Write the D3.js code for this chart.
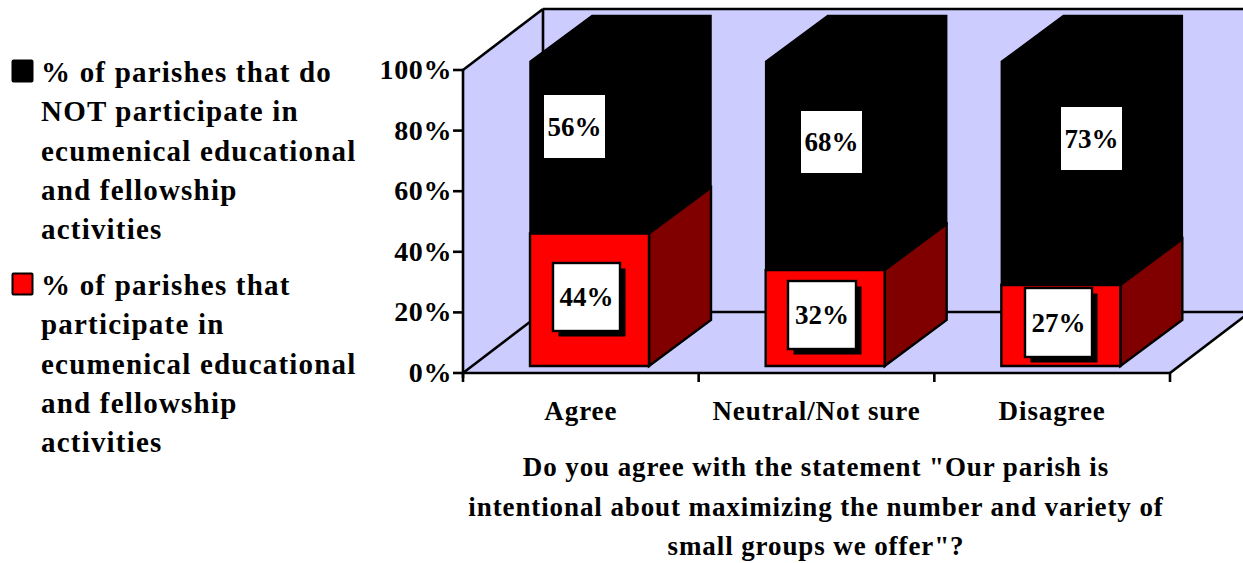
<!DOCTYPE html>
<html><head><meta charset="utf-8">
<script src="https://cdn.jsdelivr.net/npm/d3@7/dist/d3.min.js"></script>
<style>html,body{margin:0;background:#fff}svg{display:block}text{font-family:"Liberation Serif",serif;fill:#000}</style>
</head><body><svg id="c" width="1243" height="563"></svg>
<script>
const categories=["Agree","Neutral/Not sure","Disagree"];
const participate=[43.5,31.5,26.6];
const notParticipate=[56.5,68.5,73.4];
const participateLabels=["44%","32%","27%"];
const notParticipateLabels=["56%","68%","73%"];
const ticks=[0,20,40,60,80,100];
const legendNot=["% of parishes that do","NOT participate in","ecumenical educational","and fellowship","activities"];
const legendYes=["% of parishes that","participate in","ecumenical educational","and fellowship","activities"];
const titleLines=['Do you agree with the statement "Our parish is','intentional about maximizing the number and variety of','small groups we offer"?'];

const svg=d3.select("#c");
const F=27;
const x=d3.scaleBand().domain(categories).range([463,1170]);
const y=d3.scaleLinear().domain([0,100]).range([373,70]);
const barY=d3.scaleLinear().domain([0,100]).range([366,61.5]);
const dx=80,dy=-61, bdx=62,bdy=-46, barW=119, barOff=67;
const line=d3.line();
const P=(pts,fill,sw=2.2,stroke="#000")=>svg.append("path").attr("d",line(pts)+"Z").attr("fill",fill).attr("stroke",stroke).attr("stroke-width",sw).attr("stroke-linejoin","miter");
const L=(a,b,sw=2.6)=>svg.append("line").attr("x1",a[0]).attr("y1",a[1]).attr("x2",b[0]).attr("y2",b[1]).attr("stroke","#000").attr("stroke-width",sw);
const x0=x.range()[0],x1=x.range()[1],yb=y(0),yt=y(100);
const wall="#ccccff";
P([[x0,yb],[x0,yt],[x0+dx,yt+dy],[x1+dx,yt+dy],[x1+dx,yb+dy],[x1,yb]],wall,0);
L([x0,yt],[x0+dx,yt+dy]);L([x0+dx,yt+dy],[x0+dx,yb+dy]);L([x0+dx,yt+dy],[x1+dx,yt+dy]);
L([x0,yb],[x0+dx,yb+dy]);L([x0+dx,yb+dy],[x1+dx,yb+dy]);L([x1,yb],[x1+dx,yb+dy]);
L([x0,yt-1],[x0,yb+5]);L([x0-1,yb],[x1,yb]);
ticks.forEach(t=>{L([x0-10,y(t)],[x0,y(t)]);
 svg.append("text").attr("x",x0-11).attr("y",y(t)+9).attr("text-anchor","end").attr("font-size",28).attr("letter-spacing",0.6).attr("font-weight","bold").text(t+"%");});
categories.forEach((c,i)=>{L([x(c)+x.bandwidth(),yb],[x(c)+x.bandwidth(),yb+9]);
 svg.append("text").attr("x",x(c)+x.bandwidth()/2).attr("y",420).attr("text-anchor","middle").attr("font-size",27).attr("letter-spacing",0.9).attr("font-weight","bold").text(c);});
L([x0,yb],[x0,yb+9]);
const boxes=[[544,95,61,63],[801,111,61,62],[1061,107,61,63]];
const boxesR=[[553,263,67,68],[788,281,68,68],[1025,288,67,69]];
categories.forEach((c,i)=>{
 const l=x(c)+barOff,r=l+barW,b=barY(0),m=barY(participate[i]),t=barY(participate[i]+notParticipate[i]);
 P([[l,m],[l,t],[l+bdx,t+bdy],[r+bdx,t+bdy],[r+bdx,m+bdy],[r,m]],"#000",1.5);
 P([[r,b],[r+bdx,b+bdy],[r+bdx,m+bdy],[r,m]],"#800000",2.4);
 P([[l,b],[l,m],[r,m],[r,b]],"#ff0000",2.4);
});
const txt=(b,s)=>svg.append("text").attr("x",b[0]+b[2]/2).attr("y",b[1]+b[3]/2+9).attr("text-anchor","middle").attr("font-size",F).attr("font-weight","bold").text(s);
boxes.forEach((b,i)=>{svg.append("rect").attr("x",b[0]).attr("y",b[1]).attr("width",b[2]).attr("height",b[3]).attr("fill","#fff");txt(b,notParticipateLabels[i]);});
boxesR.forEach((b,i)=>{
 svg.append("rect").attr("x",b[0]+5.5).attr("y",b[1]+5.5).attr("width",b[2]).attr("height",b[3]).attr("fill","#000");
 svg.append("rect").attr("x",b[0]).attr("y",b[1]).attr("width",b[2]).attr("height",b[3]).attr("fill","#fff").attr("stroke","#000").attr("stroke-width",2.4);
 txt(b,participateLabels[i]);});
const lg=(lines,y0,col)=>{
 svg.append("rect").attr("x",12.5).attr("y",y0-18.5).attr("width",20).attr("height",21).attr("rx",1).attr("fill",col).attr("stroke","#000").attr("stroke-width",2);
 lines.forEach((s,i)=>svg.append("text").attr("x",41).attr("y",y0+3+i*39.3).attr("font-size",29).attr("letter-spacing",1.2).attr("font-weight","bold").text(s));};
lg(legendNot,79,"#000");lg(legendYes,292,"#ff0000");
titleLines.forEach((s,i)=>svg.append("text").attr("x",816).attr("y",476+i*39.5).attr("text-anchor","middle").attr("font-size",27).attr("letter-spacing",0.9).attr("font-weight","bold").text(s));
</script></body></html>
